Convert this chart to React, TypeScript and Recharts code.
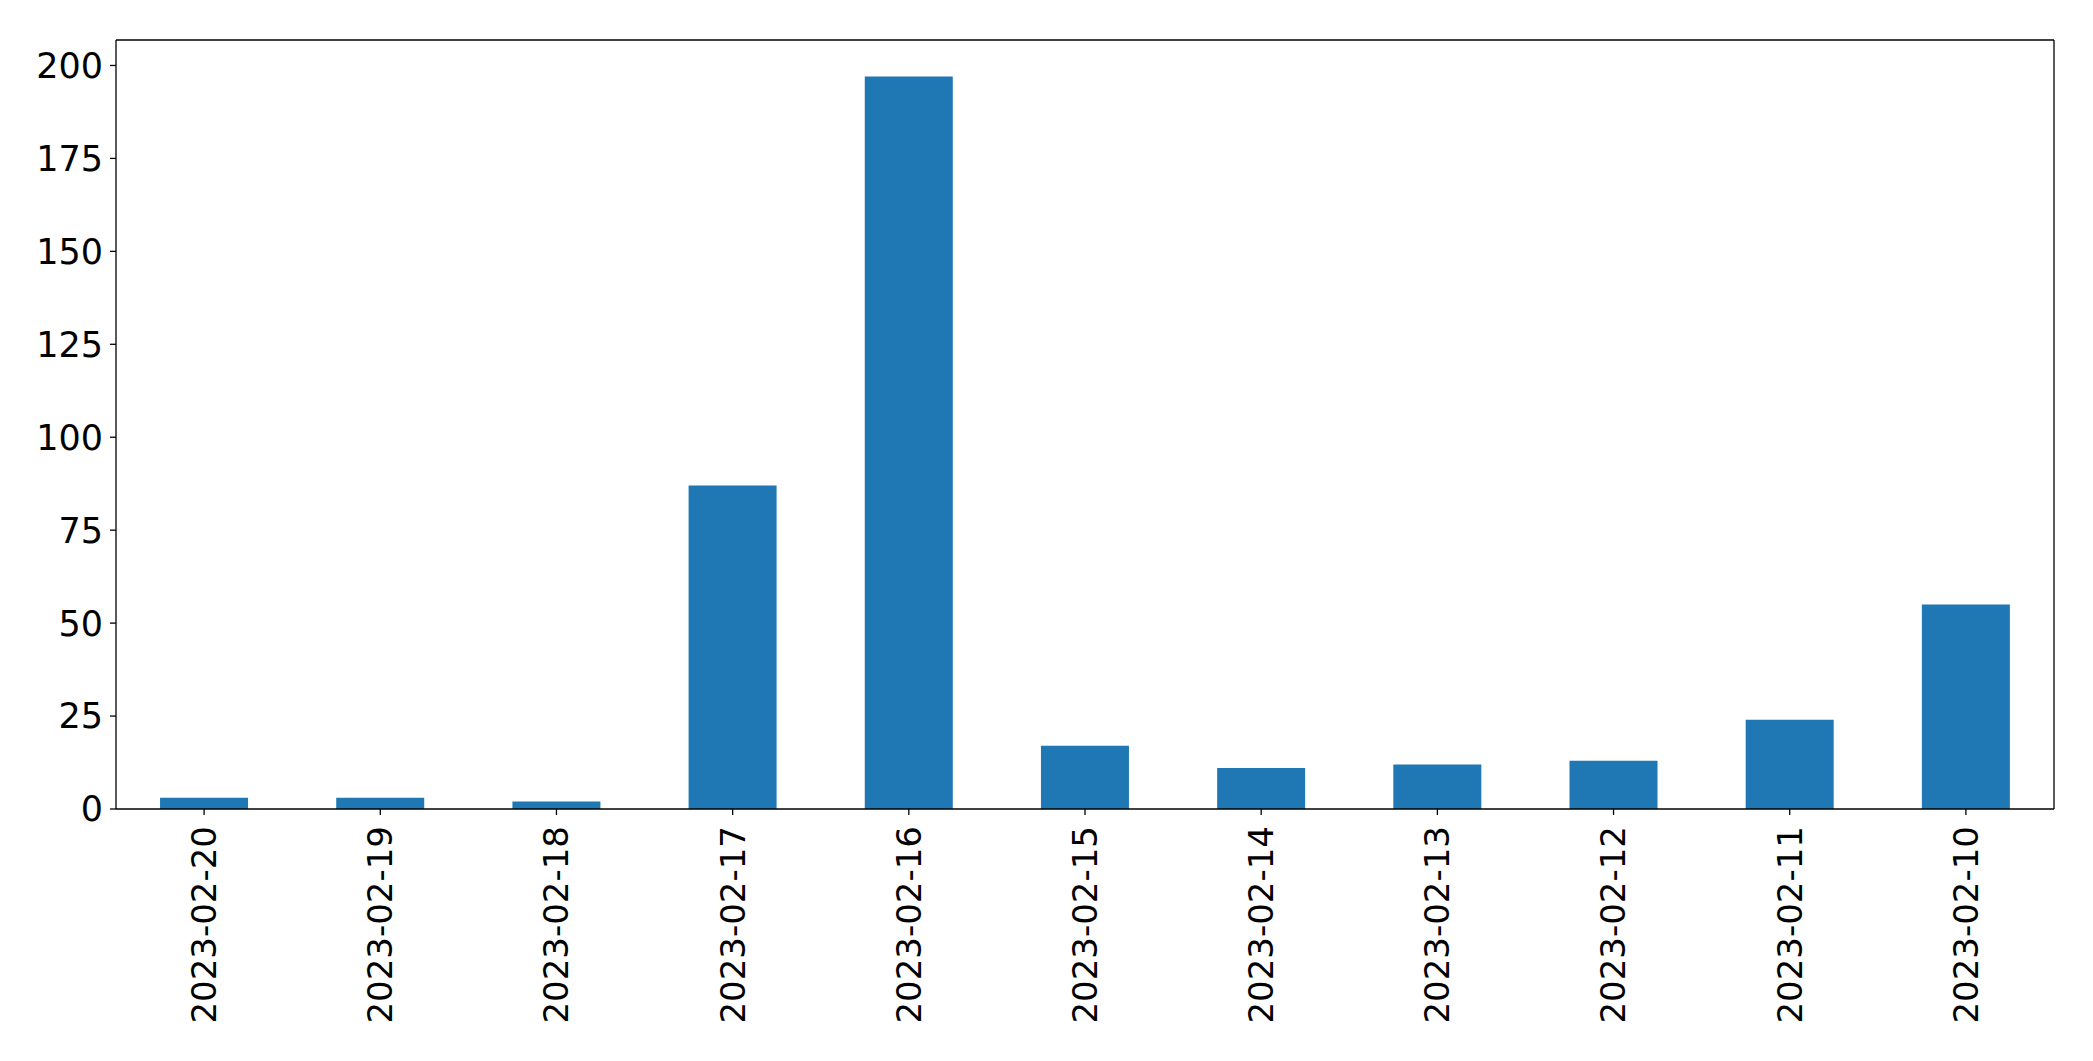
import React from 'react';
import { BarChart, Bar, XAxis, YAxis } from 'recharts';

// ── Data ──────────────────────────────────────────────────────────────────────

const dates = [
  '2023-02-20', '2023-02-19', '2023-02-18', '2023-02-17', '2023-02-16', '2023-02-15',
  '2023-02-14', '2023-02-13', '2023-02-12', '2023-02-11', '2023-02-10',
];
const counts = [3, 3, 2, 87, 197, 17, 11, 12, 13, 24, 55];
const yTicks = [0, 25, 50, 75, 100, 125, 150, 175, 200];

const data = dates.map((d, i) => ({ date: d, count: counts[i] }));

const FONT = "'DejaVu Sans', sans-serif";
const INK = '#000';

// ── Rotated x tick label ──────────────────────────────────────────────────────

function DateTick(props: any) {
  const { x, payload, y } = props;
  return (
    <g transform={`translate(${x},${y + 9}) rotate(-90)`}>
      <text x={0} y={0} dy="0.35em" textAnchor="end" fontFamily={FONT} fontSize={34} fill={INK}>
        {payload.value}
      </text>
    </g>
  );
}

export default function App() {
  return (
    <div style={{ position: 'fixed', left: 0, top: 0, width: 2093, height: 1061, background: '#fff' }}>
      <BarChart
        width={2093}
        height={1061}
        data={data}
        margin={{ top: 39, right: 38, left: 0, bottom: 0 }}
        barCategoryGap="25%"
      >
        <XAxis
          dataKey="date"
          height={252}
          interval={0}
          tick={<DateTick />}
          tickSize={6}
          tickMargin={2}
          stroke={INK}
          strokeWidth={1.3}
          tickLine={{ stroke: INK, strokeWidth: 1.3 }}
        />
        {/* top and right spines */}
        <XAxis xAxisId="top" dataKey="date" orientation="top" height={1} tick={false} tickLine={false}
          stroke={INK} strokeWidth={1.3} />
        <YAxis
          domain={[0, 206.85]}
          ticks={yTicks}
          width={116}
          tickSize={6}
          tickMargin={7}
          stroke={INK}
          strokeWidth={1.3}
          tickLine={{ stroke: INK, strokeWidth: 1.3 }}
          tick={{ fontFamily: FONT, fontSize: 35, fill: INK }}
          allowDataOverflow
        />
        <YAxis yAxisId="right" orientation="right" width={1} tick={false} tickLine={false}
          stroke={INK} strokeWidth={1.3} />
        <Bar dataKey="count" fill="#1f77b4" isAnimationActive={false} />
      </BarChart>
    </div>
  );
}
